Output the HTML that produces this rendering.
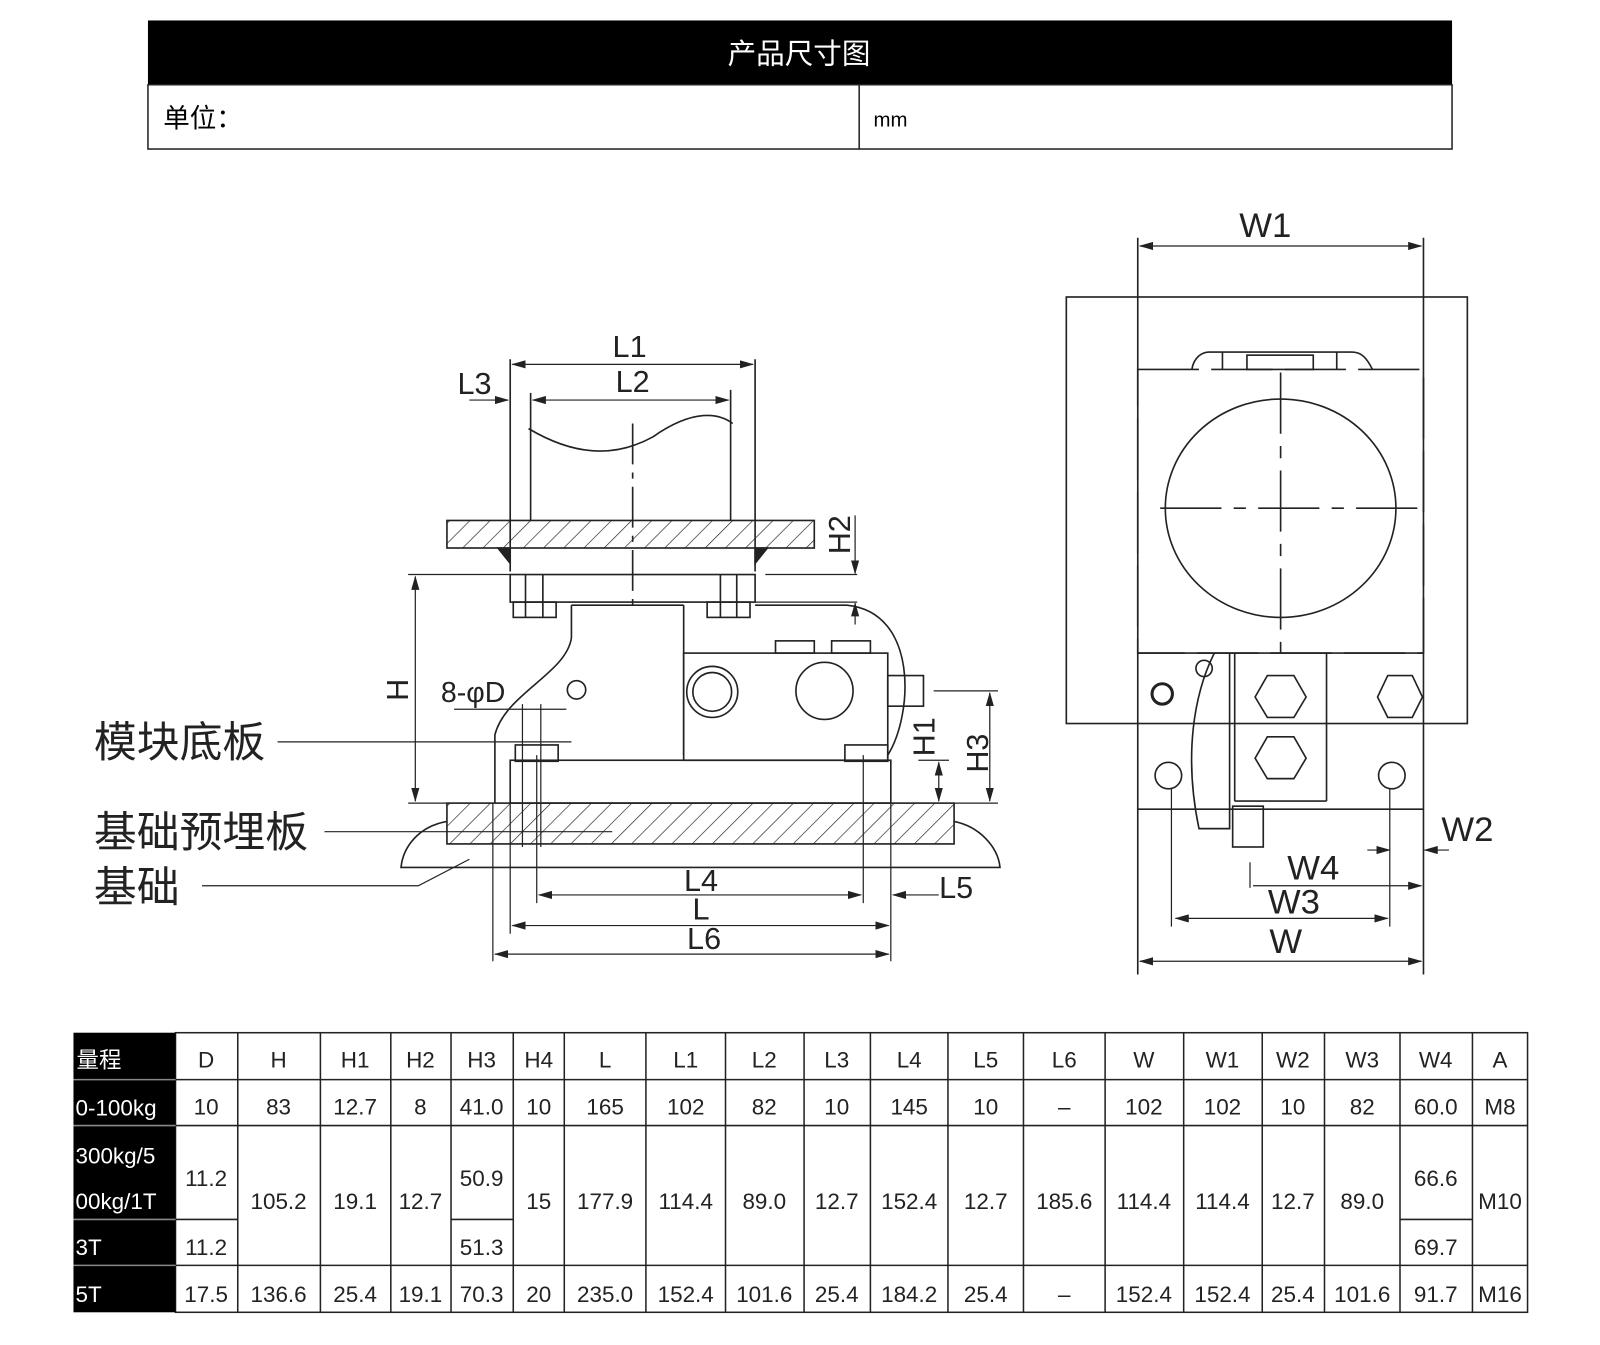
<!DOCTYPE html>
<html><head><meta charset="utf-8"><style>
html,body{margin:0;padding:0;background:#fff;}
svg{display:block;}
text{font-family:"Liberation Sans","Noto Sans CJK SC",sans-serif;}
</style></head><body>
<svg width="1600" height="1345" viewBox="0 0 1568 1318" xmlns="http://www.w3.org/2000/svg">
<defs>
<pattern id="h" patternUnits="userSpaceOnUse" width="14" height="14" patternTransform="rotate(45)">
<line x1="0" y1="0" x2="0" y2="14" stroke="#222" stroke-width="1.3"/></pattern>
<marker id="a" markerWidth="14" markerHeight="8" refX="13" refY="4" orient="auto" markerUnits="userSpaceOnUse"><path d="M0,0 L14,4 L0,8 z" fill="#222"/></marker>
<marker id="b" markerWidth="14" markerHeight="8" refX="1" refY="4" orient="auto" markerUnits="userSpaceOnUse"><path d="M14,0 L0,4 L14,8 z" fill="#222"/></marker>
</defs>
<rect x="145" y="20" width="1278" height="63" fill="#000"/>
<rect x="145" y="83" width="1278" height="63" fill="none" stroke="#222" stroke-width="1.5"/>
<line x1="842" y1="83" x2="842" y2="146" stroke="#222" stroke-width="1.5"/>
<text x="783" y="62" fill="#fff" font-size="28" text-anchor="middle">产品尺寸图</text>
<text x="160" y="125" font-size="26">单位：</text>
<text x="856" y="124" font-size="20">mm</text>

<g fill="none" stroke="#222" stroke-width="1.6">
<line x1="500" y1="352" x2="500" y2="560"/><line x1="740" y1="352" x2="740" y2="560"/>
<line x1="520" y1="385" x2="520" y2="510"/><line x1="716" y1="382" x2="716" y2="510"/>
<path d="M518,420 C560,445 600,450 640,428 C680,400 705,405 718,415"/>
<line x1="620" y1="415" x2="620" y2="600" stroke-dasharray="40,8,6,8"/>
<rect x="438" y="510" width="360" height="27" fill="url(#h)"/>
<path d="M488,537 L500,537 L500,552 z M740,537 L752,537 L740,552 z" fill="#222"/>
<rect x="500" y="563" width="240" height="27"/>
<rect x="503" y="590" width="42" height="15"/><rect x="693" y="590" width="42" height="15"/>
<line x1="515" y1="563" x2="515" y2="605"/><line x1="532" y1="563" x2="532" y2="605"/>
<line x1="706" y1="563" x2="706" y2="605"/><line x1="722" y1="563" x2="722" y2="605"/>
<path d="M560,593 L560,625 C555,660 495,680 485,720 L485,787"/>
<line x1="560" y1="593" x2="670" y2="593"/><line x1="670" y1="593" x2="670" y2="740"/>
<rect x="670" y="640" width="200" height="105"/>
<rect x="760" y="628" width="38" height="12"/><rect x="815" y="628" width="38" height="12"/>
<circle cx="698" cy="678" r="25"/><circle cx="698" cy="678" r="19"/>
<circle cx="808" cy="677" r="28"/>
<circle cx="565" cy="676" r="9"/>
<path d="M740,593 L830,593 C900,600 895,700 870,740"/>
<rect x="870" y="662" width="35" height="30"/>
<rect x="500" y="745" width="373" height="42"/>
<rect x="505" y="730" width="42" height="16"/><rect x="828" y="730" width="42" height="16"/>
<rect x="438" y="787" width="497" height="40" fill="url(#h)"/>
<path d="M438,805 C410,810 395,830 393,850 L980,850 C978,830 960,810 935,805"/>
<line x1="272" y1="727" x2="560" y2="727" stroke-width="1.2"/>
<line x1="318" y1="815" x2="600" y2="815" stroke-width="1.2"/>
<polyline points="198,868 410,868 460,842" stroke-width="1.2"/>
<line x1="400" y1="563" x2="500" y2="563" stroke-width="1.2"/>
<line x1="400" y1="787" x2="438" y2="787" stroke-width="1.2"/>
<line x1="407" y1="565" x2="407" y2="785" marker-start="url(#b)" marker-end="url(#a)" stroke-width="1.2"/>
<line x1="750" y1="563" x2="840" y2="563" stroke-width="1.2"/>
<line x1="740" y1="590" x2="840" y2="590" stroke-width="1.2"/>
<line x1="838" y1="505" x2="838" y2="562" marker-end="url(#a)" stroke-width="1.2"/>
<line x1="838" y1="612" x2="838" y2="591" marker-end="url(#a)" stroke-width="1.2"/>
<line x1="915" y1="677" x2="978" y2="677" stroke-width="1.2"/>
<line x1="935" y1="787" x2="978" y2="787" stroke-width="1.2"/>
<line x1="900" y1="745" x2="930" y2="745" stroke-width="1.2"/>
<line x1="970" y1="679" x2="970" y2="785" marker-start="url(#b)" marker-end="url(#a)" stroke-width="1.2"/>
<line x1="920" y1="747" x2="920" y2="785" marker-start="url(#b)" marker-end="url(#a)" stroke-width="1.2"/>
<line x1="445" y1="695" x2="555" y2="695" stroke-width="1.2"/>
<line x1="512" y1="690" x2="512" y2="830" stroke-width="1.2"/><line x1="530" y1="690" x2="530" y2="830" stroke-width="1.2"/>
<line x1="483" y1="787" x2="483" y2="942" stroke-width="1.2"/>
<line x1="500" y1="787" x2="500" y2="915" stroke-width="1.2"/>
<line x1="526" y1="740" x2="526" y2="885" stroke-width="1.2"/>
<line x1="846" y1="740" x2="846" y2="885" stroke-width="1.2"/>
<line x1="873" y1="787" x2="873" y2="942" stroke-width="1.2"/>
<line x1="528" y1="877" x2="844" y2="877" marker-start="url(#b)" marker-end="url(#a)" stroke-width="1.2"/>
<line x1="502" y1="907" x2="871" y2="907" marker-start="url(#b)" marker-end="url(#a)" stroke-width="1.2"/>
<line x1="485" y1="935" x2="871" y2="935" marker-start="url(#b)" marker-end="url(#a)" stroke-width="1.2"/>
<line x1="920" y1="877" x2="875" y2="877" marker-end="url(#a)" stroke-width="1.2"/>
<line x1="502" y1="357" x2="738" y2="357" marker-start="url(#b)" marker-end="url(#a)" stroke-width="1.2"/>
<line x1="522" y1="392" x2="714" y2="392" marker-start="url(#b)" marker-end="url(#a)" stroke-width="1.2"/>
<line x1="460" y1="392" x2="498" y2="392" marker-end="url(#a)" stroke-width="1.2"/>

<rect x="1045" y="291" width="393" height="418"/>
<rect x="1115" y="362" width="280" height="278" stroke-dasharray="60,12"/>
<ellipse cx="1255" cy="498" rx="113" ry="107"/>
<line x1="1137" y1="498" x2="1400" y2="498" stroke-dasharray="60,12,12,12"/>
<line x1="1255" y1="365" x2="1255" y2="640" stroke-dasharray="60,12,12,12"/>
<path d="M1168,362 C1170,350 1178,345 1185,345 L1325,345 C1335,345 1340,352 1345,362"/>
<rect x="1222" y="348" width="65" height="14"/>
<line x1="1198" y1="345" x2="1198" y2="362"/><line x1="1310" y1="345" x2="1310" y2="362"/>
<line x1="1115" y1="233" x2="1115" y2="955"/><line x1="1395" y1="233" x2="1395" y2="955"/>
<line x1="1117" y1="241" x2="1393" y2="241" marker-start="url(#b)" marker-end="url(#a)" stroke-width="1.2"/>
<line x1="1115" y1="640" x2="1395" y2="640"/>
<line x1="1115" y1="793" x2="1395" y2="793"/>
<line x1="1210" y1="640" x2="1210" y2="785"/><line x1="1300" y1="640" x2="1300" y2="785"/>
<line x1="1210" y1="785" x2="1300" y2="785"/>
<polygon points="1242,662 1268,662 1280,683 1268,703 1242,703 1230,683"/>
<polygon points="1242,722 1268,722 1280,743 1268,763 1242,763 1230,743"/>
<polygon points="1360,662 1384,662 1394,683 1384,703 1360,703 1350,683"/>
<circle cx="1139" cy="680" r="10" stroke-width="3"/>
<circle cx="1145" cy="760" r="13"/><circle cx="1364" cy="760" r="13"/>
<line x1="1148" y1="773" x2="1148" y2="908" stroke-width="1.2"/><line x1="1362" y1="773" x2="1362" y2="908" stroke-width="1.2"/>
<path d="M1190,640 C1170,680 1160,740 1175,812 L1205,812 L1205,640"/>
<circle cx="1180" cy="655" r="8"/>
<rect x="1208" y="790" width="30" height="40"/>
<line x1="1152" y1="900" x2="1360" y2="900" marker-start="url(#b)" marker-end="url(#a)" stroke-width="1.2"/>
<line x1="1117" y1="942" x2="1393" y2="942" marker-start="url(#b)" marker-end="url(#a)" stroke-width="1.2"/>
<line x1="1228" y1="868" x2="1393" y2="868" marker-end="url(#a)" stroke-width="1.2"/>
<line x1="1225" y1="845" x2="1225" y2="870" stroke-width="1.2"/>
<line x1="1340" y1="833" x2="1362" y2="833" marker-end="url(#a)" stroke-width="1.2"/>
<line x1="1420" y1="833" x2="1396" y2="833" marker-end="url(#a)" stroke-width="1.2"/>
</g>
<g font-size="30" fill="#222">
<text x="617" y="350" text-anchor="middle">L1</text>
<text x="620" y="384" text-anchor="middle">L2</text>
<text x="465" y="386" text-anchor="middle">L3</text>
<text x="432" y="688" font-size="28">8-φD</text>
<text x="687" y="873" text-anchor="middle">L4</text>
<text x="687" y="901" text-anchor="middle">L</text>
<text x="690" y="930" text-anchor="middle">L6</text>
<text x="937" y="880" text-anchor="middle">L5</text>
<text transform="translate(833,524) rotate(-90)" text-anchor="middle">H2</text>
<text transform="translate(400,676) rotate(-90)" text-anchor="middle">H</text>
<text transform="translate(916,722) rotate(-90)" text-anchor="middle">H1</text>
<text transform="translate(968,738) rotate(-90)" text-anchor="middle">H3</text>
<text x="1240" y="232" text-anchor="middle" font-size="34">W1</text>
<text x="1438" y="824" text-anchor="middle" font-size="34">W2</text>
<text x="1287" y="862" text-anchor="middle" font-size="34">W4</text>
<text x="1268" y="895" text-anchor="middle" font-size="34">W3</text>
<text x="1260" y="934" text-anchor="middle" font-size="34">W</text>
<text x="92" y="742" font-size="42">模块底板</text>
<text x="92" y="830" font-size="42">基础预埋板</text>
<text x="92" y="884" font-size="42">基础</text>
</g>

<g stroke="#222" stroke-width="1.5" fill="none">
<rect x="172" y="1012" width="1325" height="274"/>
<line x1="172" y1="1058" x2="1497" y2="1058"/><line x1="172" y1="1103" x2="1497" y2="1103"/>
<line x1="172" y1="1240" x2="1497" y2="1240"/>
<line x1="172" y1="1195" x2="233" y2="1195"/><line x1="442" y1="1195" x2="503" y2="1195"/><line x1="1372" y1="1195" x2="1443" y2="1195"/>
<path d="M233,1012V1286M314,1012V1286M383,1012V1286M442,1012V1286M503,1012V1286M553,1012V1286M633,1012V1286M711,1012V1286M788,1012V1286M853,1012V1286M929,1012V1286M1003,1012V1286M1083,1012V1286M1160,1012V1286M1237,1012V1286M1298,1012V1286M1372,1012V1286M1443,1012V1286"/>
</g>
<rect x="72" y="1012" width="100" height="274" fill="#000"/>
<g stroke="#888" stroke-width="1.5"><line x1="72" y1="1058" x2="172" y2="1058"/><line x1="72" y1="1103" x2="172" y2="1103"/><line x1="72" y1="1195" x2="172" y2="1195"/><line x1="72" y1="1240" x2="172" y2="1240"/></g>
<g fill="#fff" font-size="22">
<text x="75" y="1046">量程</text><text x="74" y="1093">0-100kg</text>
<text x="74" y="1140">300kg/5</text><text x="74" y="1185">00kg/1T</text>
<text x="74" y="1230">3T</text><text x="74" y="1276">5T</text>
</g>
<g font-size="22" fill="#222" text-anchor="middle">
<text x="202" y="1046">D</text><text x="273" y="1046">H</text><text x="348" y="1046">H1</text><text x="412" y="1046">H2</text><text x="472" y="1046">H3</text><text x="528" y="1046">H4</text><text x="593" y="1046">L</text><text x="672" y="1046">L1</text><text x="749" y="1046">L2</text><text x="820" y="1046">L3</text><text x="891" y="1046">L4</text><text x="966" y="1046">L5</text><text x="1043" y="1046">L6</text><text x="1121" y="1046">W</text><text x="1198" y="1046">W1</text><text x="1267" y="1046">W2</text><text x="1335" y="1046">W3</text><text x="1407" y="1046">W4</text><text x="1470" y="1046">A</text>
<text x="202" y="1092">10</text><text x="273" y="1092">83</text><text x="348" y="1092">12.7</text><text x="412" y="1092">8</text><text x="472" y="1092">41.0</text><text x="528" y="1092">10</text><text x="593" y="1092">165</text><text x="672" y="1092">102</text><text x="749" y="1092">82</text><text x="820" y="1092">10</text><text x="891" y="1092">145</text><text x="966" y="1092">10</text><text x="1043" y="1092">–</text><text x="1121" y="1092">102</text><text x="1198" y="1092">102</text><text x="1267" y="1092">10</text><text x="1335" y="1092">82</text><text x="1407" y="1092">60.0</text><text x="1470" y="1092">M8</text>
<text x="202" y="1162">11.2</text><text x="472" y="1162">50.9</text><text x="1407" y="1162">66.6</text>
<text x="273" y="1185">105.2</text><text x="348" y="1185">19.1</text><text x="412" y="1185">12.7</text><text x="528" y="1185">15</text><text x="593" y="1185">177.9</text><text x="672" y="1185">114.4</text><text x="749" y="1185">89.0</text><text x="820" y="1185">12.7</text><text x="891" y="1185">152.4</text><text x="966" y="1185">12.7</text><text x="1043" y="1185">185.6</text><text x="1121" y="1185">114.4</text><text x="1198" y="1185">114.4</text><text x="1267" y="1185">12.7</text><text x="1335" y="1185">89.0</text><text x="1470" y="1185">M10</text>
<text x="202" y="1230">11.2</text><text x="472" y="1230">51.3</text><text x="1407" y="1230">69.7</text>
<text x="202" y="1276">17.5</text><text x="273" y="1276">136.6</text><text x="348" y="1276">25.4</text><text x="412" y="1276">19.1</text><text x="472" y="1276">70.3</text><text x="528" y="1276">20</text><text x="593" y="1276">235.0</text><text x="672" y="1276">152.4</text><text x="749" y="1276">101.6</text><text x="820" y="1276">25.4</text><text x="891" y="1276">184.2</text><text x="966" y="1276">25.4</text><text x="1043" y="1276">–</text><text x="1121" y="1276">152.4</text><text x="1198" y="1276">152.4</text><text x="1267" y="1276">25.4</text><text x="1335" y="1276">101.6</text><text x="1407" y="1276">91.7</text><text x="1470" y="1276">M16</text>
</g>
</svg>
</body></html>
